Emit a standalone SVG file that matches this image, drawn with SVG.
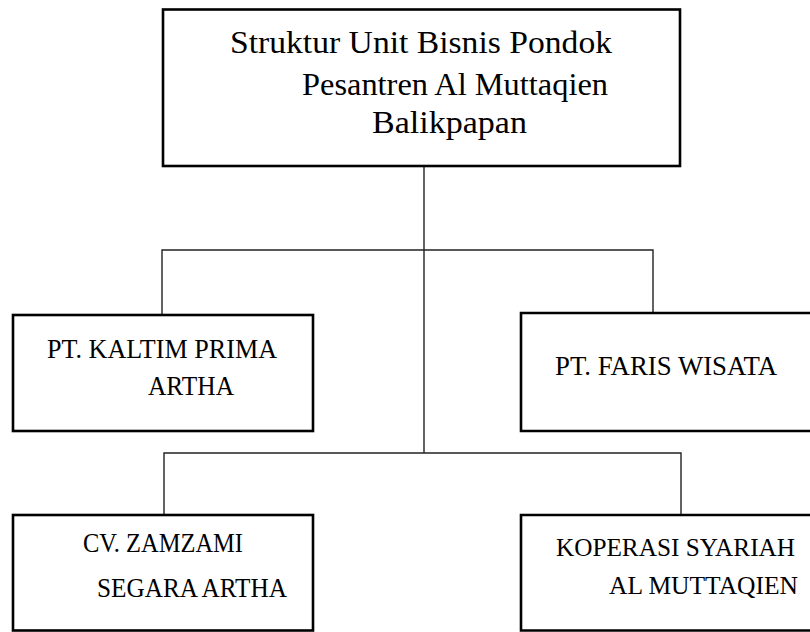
<svg xmlns="http://www.w3.org/2000/svg" width="810" height="632" viewBox="0 0 810 632">
<style>
.box{fill:#fff;stroke:#000;stroke-width:2.6}
.con{fill:none;stroke:#222;stroke-width:1.4}
text{font-family:"Liberation Serif","Times New Roman",serif;fill:#000}
.t1{font-size:31px}
.t2{font-size:27.5px}
.t3{font-size:26px}
</style>
<rect width="810" height="632" fill="#fff"/>
<g id="connectors">
<path class="con" d="M424 166V453"/>
<path class="con" d="M162 315V250H653V313"/>
<path class="con" d="M164 515V453H681V515"/>
</g>
<g id="root">
<rect class="box" x="163" y="9.5" width="517" height="156.5"/>
<text class="t1" x="230" y="53" textLength="382" lengthAdjust="spacingAndGlyphs">Struktur Unit Bisnis Pondok</text>
<text class="t1" x="302" y="95" textLength="306" lengthAdjust="spacingAndGlyphs">Pesantren Al Muttaqien</text>
<text class="t1" x="372" y="133" textLength="155" lengthAdjust="spacingAndGlyphs">Balikpapan</text>
</g>
<g id="kaltim">
<rect class="box" x="13" y="315" width="300" height="116"/>
<text class="t2" x="47" y="358" textLength="230" lengthAdjust="spacingAndGlyphs">PT. KALTIM PRIMA</text>
<text class="t2" x="148" y="395" textLength="86" lengthAdjust="spacingAndGlyphs">ARTHA</text>
</g>
<g id="faris">
<path class="box" d="M810 313H521V431H810"/>
<text class="t2" x="555" y="375" textLength="222" lengthAdjust="spacingAndGlyphs">PT. FARIS WISATA</text>
</g>
<g id="zamzami">
<rect class="box" x="13" y="515" width="300" height="115.5"/>
<text class="t2" x="83" y="552" textLength="160" lengthAdjust="spacingAndGlyphs">CV. ZAMZAMI</text>
<text class="t2" x="97" y="597" textLength="190" lengthAdjust="spacingAndGlyphs">SEGARA ARTHA</text>
</g>
<g id="koperasi">
<path class="box" d="M810 515H521V630.5H810"/>
<text class="t3" x="556" y="556" textLength="239" lengthAdjust="spacingAndGlyphs">KOPERASI SYARIAH</text>
<text class="t3" x="609" y="594" textLength="189" lengthAdjust="spacingAndGlyphs">AL MUTTAQIEN</text>
</g>
</svg>
